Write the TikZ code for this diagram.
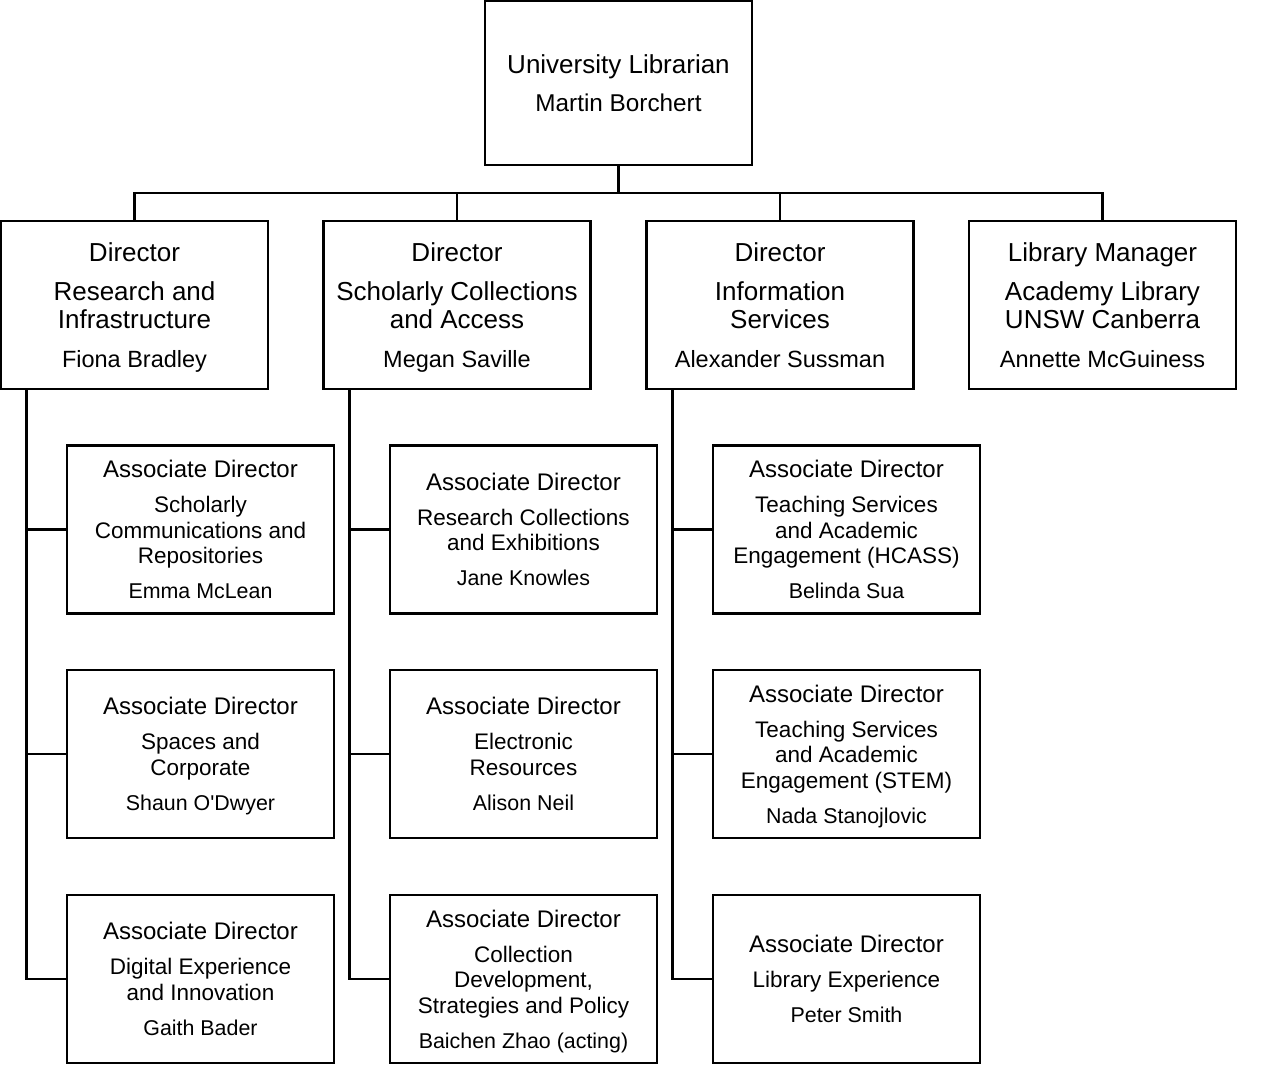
\documentclass[tikz,border=0pt]{standalone}
\usepackage{fontspec}
\setmainfont{Liberation Sans}[Ligatures=TeXOff]
\newcommand{\nodepth}[1]{\raisebox{0pt}[\height][0pt]{#1}}
\newcommand{\dtitle}{\fontsize{26}{28}\selectfont}
\newcommand{\dname}{\fontsize{23.5}{28}\selectfont}
\newcommand{\atitle}{\fontsize{24}{25.5}\selectfont}
\newcommand{\aname}{\fontsize{21.4}{25.5}\selectfont}
\begin{document}
\begin{tikzpicture}[x=1pt,y=-1pt,
  line width=2.6pt,
  topbox/.style={draw, rectangle, minimum width=267pt, minimum height=164pt, align=center, inner sep=0pt,
    font=\fontsize{26}{28}\selectfont},
  dirbox/.style={draw, rectangle, minimum width=267pt, minimum height=168pt, align=center, inner sep=0pt,
    font=\fontsize{26}{28}\selectfont},
  assocbox/.style={draw, rectangle, minimum width=267pt, minimum height=168pt, align=center, inner sep=0pt,
    font=\fontsize{22.5}{25.5}\selectfont}
]
\useasboundingbox (0,0) rectangle (1280,1088);

\node[topbox] (top) at (618.5,83) {University Librarian\\[10pt]\nodepth{\fontsize{24.3}{28}\selectfont Martin Borchert}};

\node[dirbox] (d1) at (134.5,305) {Director\\[11pt]Research and\\Infrastructure\\[11pt]\nodepth{\dname Fiona Bradley}};
\node[dirbox] (d2) at (457,305) {Director\\[11pt]Scholarly Collections\\and Access\\[11pt]\nodepth{\dname Megan Saville}};
\node[dirbox] (d3) at (780,305) {Director\\[11pt]Information\\Services\\[11pt]\nodepth{\dname Alexander Sussman}};
\node[dirbox] (d4) at (1102.5,305) {Library Manager\\[11pt]Academy Library\\UNSW Canberra\\[11pt]\nodepth{\dname Annette McGuiness}};

\node[assocbox] (a11) at (200.5,529.5) {{\atitle Associate Director}\\[9.5pt]Scholarly\\Communications and\\Repositories\\[9.5pt]\nodepth{\aname Emma McLean}};
\node[assocbox] (a12) at (200.5,754) {{\atitle Associate Director}\\[9.5pt]Spaces and\\Corporate\\[9.5pt]\nodepth{\aname Shaun O'Dwyer}};
\node[assocbox] (a13) at (200.5,979) {{\atitle Associate Director}\\[9.5pt]Digital Experience\\and Innovation\\[9.5pt]\nodepth{\aname Gaith Bader}};

\node[assocbox] (a21) at (523.5,529.5) {{\atitle Associate Director}\\[9.5pt]Research Collections\\and Exhibitions\\[9.5pt]\nodepth{\aname Jane Knowles}};
\node[assocbox] (a22) at (523.5,754) {{\atitle Associate Director}\\[9.5pt]Electronic\\Resources\\[9.5pt]\nodepth{\aname Alison Neil}};
\node[assocbox] (a23) at (523.5,979) {{\atitle Associate Director}\\[9.5pt]Collection\\Development,\\Strategies and Policy\\[9.5pt]\nodepth{\aname Baichen Zhao (acting)}};

\node[assocbox] (a31) at (846.5,529.5) {{\atitle Associate Director}\\[9.5pt]Teaching Services\\and Academic\\Engagement (HCASS)\\[9.5pt]\nodepth{\aname Belinda Sua}};
\node[assocbox] (a32) at (846.5,754) {{\atitle Associate Director}\\[9.5pt]Teaching Services\\and Academic\\Engagement (STEM)\\[9.5pt]\nodepth{\aname Nada Stanojlovic}};
\node[assocbox] (a33) at (846.5,979) {{\atitle Associate Director}\\[9.5pt]Library Experience\\[9.5pt]\nodepth{\aname Peter Smith}};

% bus
\coordinate (bus) at (0,193);
\draw (top.south) -- (top.south |- bus);
\draw (d1.north) -- (d1.north |- bus) -- (d4.north |- bus) -- (d4.north);
\draw (d2.north) -- (d2.north |- bus);
\draw (d3.north) -- (d3.north |- bus);

% spines
\coordinate (s1) at ([xshift=27pt]d1.south west);
\coordinate (s2) at ([xshift=27pt]d2.south west);
\coordinate (s3) at ([xshift=27pt]d3.south west);
\draw (s1) |- (a13.west);
\draw (a11.west) -- (a11.west -| s1);
\draw (a12.west) -- (a12.west -| s1);
\draw (s2) |- (a23.west);
\draw (a21.west) -- (a21.west -| s2);
\draw (a22.west) -- (a22.west -| s2);
\draw (s3) |- (a33.west);
\draw (a31.west) -- (a31.west -| s3);
\draw (a32.west) -- (a32.west -| s3);
\end{tikzpicture}
\end{document}
